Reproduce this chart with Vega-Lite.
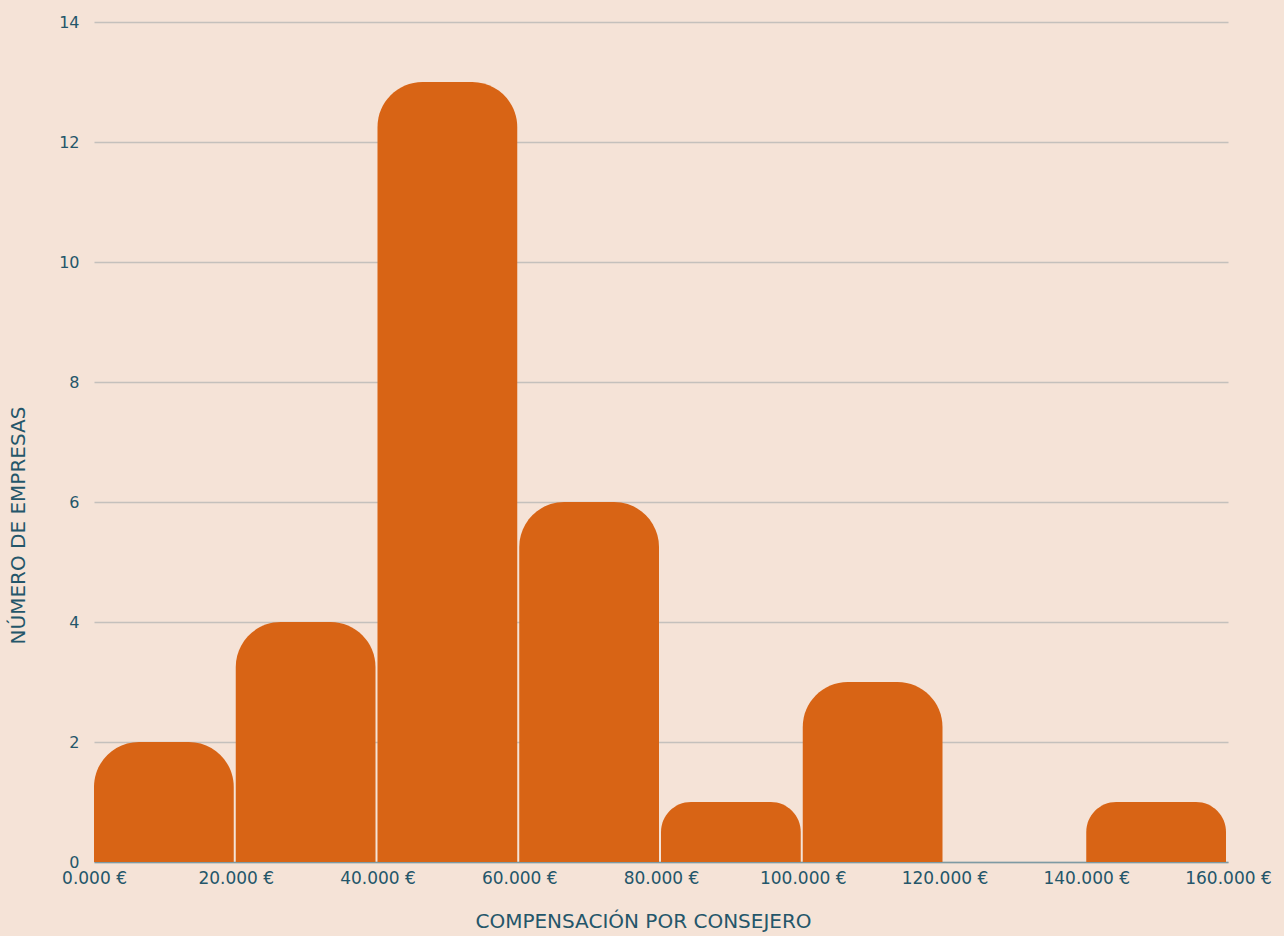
{
  "$schema": "https://vega.github.io/schema/vega-lite/v6.json",
  "autosize": "none",
  "width": 1134,
  "height": 840,
  "padding": {"left": 94, "top": 22, "right": 56, "bottom": 74},
  "background": "#F5E3D7",
  "config": {
    "view": {"stroke": null},
    "font": "DejaVu Sans",
    "axis": {"labelColor": "#24566A", "titleColor": "#24566A", "labelFont": "DejaVu Sans", "titleFont": "DejaVu Sans", "titleFontWeight": "normal"}
  },
  "data": {
    "values": [
      {"bin_start": 0, "bin_end": 20000, "empresas": 2},
      {"bin_start": 20000, "bin_end": 40000, "empresas": 4},
      {"bin_start": 40000, "bin_end": 60000, "empresas": 13},
      {"bin_start": 60000, "bin_end": 80000, "empresas": 6},
      {"bin_start": 80000, "bin_end": 100000, "empresas": 1},
      {"bin_start": 100000, "bin_end": 120000, "empresas": 3},
      {"bin_start": 120000, "bin_end": 140000, "empresas": 0},
      {"bin_start": 140000, "bin_end": 160000, "empresas": 1}
    ]
  },
  "mark": {"type": "bar", "fill": "#D86415", "cornerRadiusTopLeft": 45, "cornerRadiusTopRight": 45, "x2Offset": -2},
  "encoding": {
    "x": {
      "field": "bin_start", "type": "quantitative",
      "scale": {"domain": [0, 160000], "nice": false, "padding": 0},
      "axis": {
        "values": [0, 20000, 40000, 60000, 80000, 100000, 120000, 140000, 160000],
        "labelExpr": "format(datum.value / 1000, 'd') + '.000 €'",
        "grid": false, "ticks": false, "domain": true, "domainColor": "#7E9AA3", "domainWidth": 1.5,
        "labelFontSize": 17, "labelPadding": 8, "labelFlush": false,
        "title": "COMPENSACIÓN POR CONSEJERO", "titleFontSize": 20, "titlePadding": 25, "titleX": 549
      }
    },
    "x2": {"field": "bin_end"},
    "y": {
      "field": "empresas", "type": "quantitative",
      "scale": {"domain": [0, 14], "nice": false, "padding": 0},
      "axis": {
        "values": [0, 2, 4, 6, 8, 10, 12, 14],
        "grid": true, "gridColor": "#C4C0BC", "gridWidth": 1.5,
        "domain": false, "ticks": false,
        "labelFontSize": 16, "labelPadding": 15,
        "title": "NÚMERO DE EMPRESAS", "titleFontSize": 20, "titlePadding": 30, "titleY": 503
      }
    },
    "y2": {"datum": 0}
  }
}
